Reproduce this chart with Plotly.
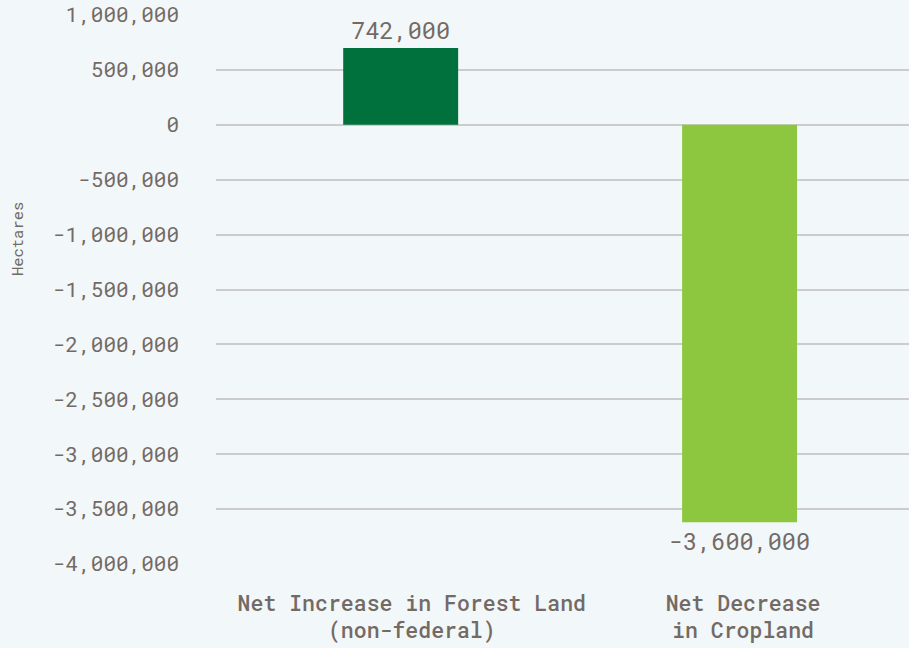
import plotly.graph_objects as go

categories = ["Net Increase in Forest Land<br>(non-federal)", "Net Decrease<br>in Cropland"]
bar_values = [700000, -3620000]          # bar heights as drawn in the picture
value_labels = ["742,000", "-3,600,000"]  # data labels as printed in the picture
bar_colors = ["#00703C", "#8DC63F"]
tick_values = [1000000, 500000, 0, -500000, -1000000, -1500000, -2000000,
               -2500000, -3000000, -3500000, -4000000]
tick_labels = [f"{v:,}" for v in tick_values]
y_title = "Hectares"

FONT = "Roboto Mono, DejaVu Sans Mono, monospace"
TEXT = "#746A64"

fig = go.Figure(go.Bar(
    x=categories,
    y=bar_values,
    width=0.347,
    offset=[-0.207, -0.184],
    marker=dict(color=bar_colors, line=dict(width=0)),
    text=value_labels,
    textposition="outside",
    constraintext="none",
    textfont=dict(family=FONT, size=23.5, color=TEXT),
    cliponaxis=False,
    hoverinfo="skip",
))

fig.update_layout(
    width=909, height=648,
    margin=dict(l=216, r=0, t=15, b=84),
    paper_bgcolor="#F2F7FA",
    plot_bgcolor="#F2F7FA",
    font=dict(family=FONT, color=TEXT),
    showlegend=False,
)
fig.update_xaxes(
    type="category",
    range=[-0.591, 1.501],
    showgrid=False, zeroline=False, showline=False,
    ticks="", ticklabelstandoff=24,
    tickfont=dict(family=FONT, size=21.5, color=TEXT, weight=500),
)
fig.update_yaxes(
    range=[-4000000, 1000000],
    tickvals=tick_values, ticktext=tick_labels,
    showgrid=True, gridcolor="#CCCCCC", gridwidth=2,
    zeroline=False, showline=False, ticks="",
    ticklabelstandoff=36,
    tickfont=dict(family=FONT, size=21, color=TEXT),
)
fig.add_annotation(
    text=y_title, textangle=-90,
    xref="paper", yref="paper", x=-0.287, y=0.592,
    xanchor="center", yanchor="middle", showarrow=False,
    font=dict(family=FONT, size=15.5, color=TEXT),
)

fig.write_html(
    "out.html",
    config={"displayModeBar": False},
    post_script="document.body.style.margin='0';document.body.style.background='#F2F7FA';",
)
